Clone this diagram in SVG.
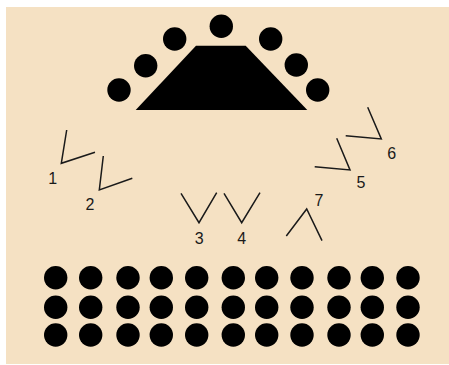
<svg xmlns="http://www.w3.org/2000/svg" width="449" height="365" viewBox="0 0 449 365">
<style>
.seat{fill:#000}
.fig{fill:none;stroke:#1a1a1a;stroke-width:1.5;stroke-linejoin:miter}
.lbl{font-family:"Liberation Sans",Arial,sans-serif;font-size:16px;fill:#1a1a1a;text-anchor:middle}
</style>
<rect x="6" y="7" width="443" height="357" fill="#F5E1C3"/>
<g id="stage">
<polygon points="196,45.7 245.7,45.7 307.3,110 135.7,110" fill="#000"/>
</g>
<g id="top-seats">
<circle class="seat" cx="119" cy="90" r="11.7"/>
<circle class="seat" cx="145.7" cy="65.7" r="11.7"/>
<circle class="seat" cx="174.7" cy="39" r="11.7"/>
<circle class="seat" cx="221.3" cy="26.3" r="11.7"/>
<circle class="seat" cx="270.7" cy="39" r="11.7"/>
<circle class="seat" cx="296.3" cy="65" r="11.7"/>
<circle class="seat" cx="317.7" cy="90" r="11.7"/>
</g>
<g id="figures">
<g id="f1"><polyline class="fig" points="66.7,130 61.3,163.3 95,152.3"/><text class="lbl" x="52.7" y="184">1</text></g>
<g id="f2"><polyline class="fig" points="103.3,156 99.3,190 132.3,178.3"/><text class="lbl" x="90" y="210">2</text></g>
<g id="f3"><polyline class="fig" points="181,193.3 199,222.7 216.7,192.7"/><text class="lbl" x="199.3" y="243.5">3</text></g>
<g id="f4"><polyline class="fig" points="224,193.3 241.7,222.7 260,192.7"/><text class="lbl" x="241.7" y="243.5">4</text></g>
<g id="f5"><polyline class="fig" points="336.7,138.3 350,170 314.7,166.7"/><text class="lbl" x="361" y="187.5">5</text></g>
<g id="f6"><polyline class="fig" points="367.7,107.3 381.3,139 345.7,135.7"/><text class="lbl" x="391.7" y="158.5">6</text></g>
<g id="f7"><polyline class="fig" points="286.3,236 306.7,209 322,240.7"/><text class="lbl" x="319" y="205.5">7</text></g>
</g>
<g id="audience">
<g id="row1">
<circle class="seat" cx="55.7" cy="277.7" r="11.7"/><circle class="seat" cx="90.7" cy="277.7" r="11.7"/><circle class="seat" cx="128" cy="277.7" r="11.7"/><circle class="seat" cx="161.3" cy="277.7" r="11.7"/><circle class="seat" cx="196.7" cy="277.7" r="11.7"/><circle class="seat" cx="233.3" cy="277.7" r="11.7"/><circle class="seat" cx="266.7" cy="277.7" r="11.7"/><circle class="seat" cx="302" cy="277.7" r="11.7"/><circle class="seat" cx="339" cy="277.7" r="11.7"/><circle class="seat" cx="372.3" cy="277.7" r="11.7"/><circle class="seat" cx="408" cy="277.7" r="11.7"/>
</g>
<g id="row2">
<circle class="seat" cx="55.7" cy="307.3" r="11.7"/><circle class="seat" cx="90.7" cy="307.3" r="11.7"/><circle class="seat" cx="128" cy="307.3" r="11.7"/><circle class="seat" cx="161.3" cy="307.3" r="11.7"/><circle class="seat" cx="196.7" cy="307.3" r="11.7"/><circle class="seat" cx="233.3" cy="307.3" r="11.7"/><circle class="seat" cx="266.7" cy="307.3" r="11.7"/><circle class="seat" cx="302" cy="307.3" r="11.7"/><circle class="seat" cx="339" cy="307.3" r="11.7"/><circle class="seat" cx="372.3" cy="307.3" r="11.7"/><circle class="seat" cx="408" cy="307.3" r="11.7"/>
</g>
<g id="row3">
<circle class="seat" cx="55.7" cy="335" r="11.7"/><circle class="seat" cx="90.7" cy="335" r="11.7"/><circle class="seat" cx="128" cy="335" r="11.7"/><circle class="seat" cx="161.3" cy="335" r="11.7"/><circle class="seat" cx="196.7" cy="335" r="11.7"/><circle class="seat" cx="233.3" cy="335" r="11.7"/><circle class="seat" cx="266.7" cy="335" r="11.7"/><circle class="seat" cx="302" cy="335" r="11.7"/><circle class="seat" cx="339" cy="335" r="11.7"/><circle class="seat" cx="372.3" cy="335" r="11.7"/><circle class="seat" cx="408" cy="335" r="11.7"/>
</g>
</g>
</svg>
